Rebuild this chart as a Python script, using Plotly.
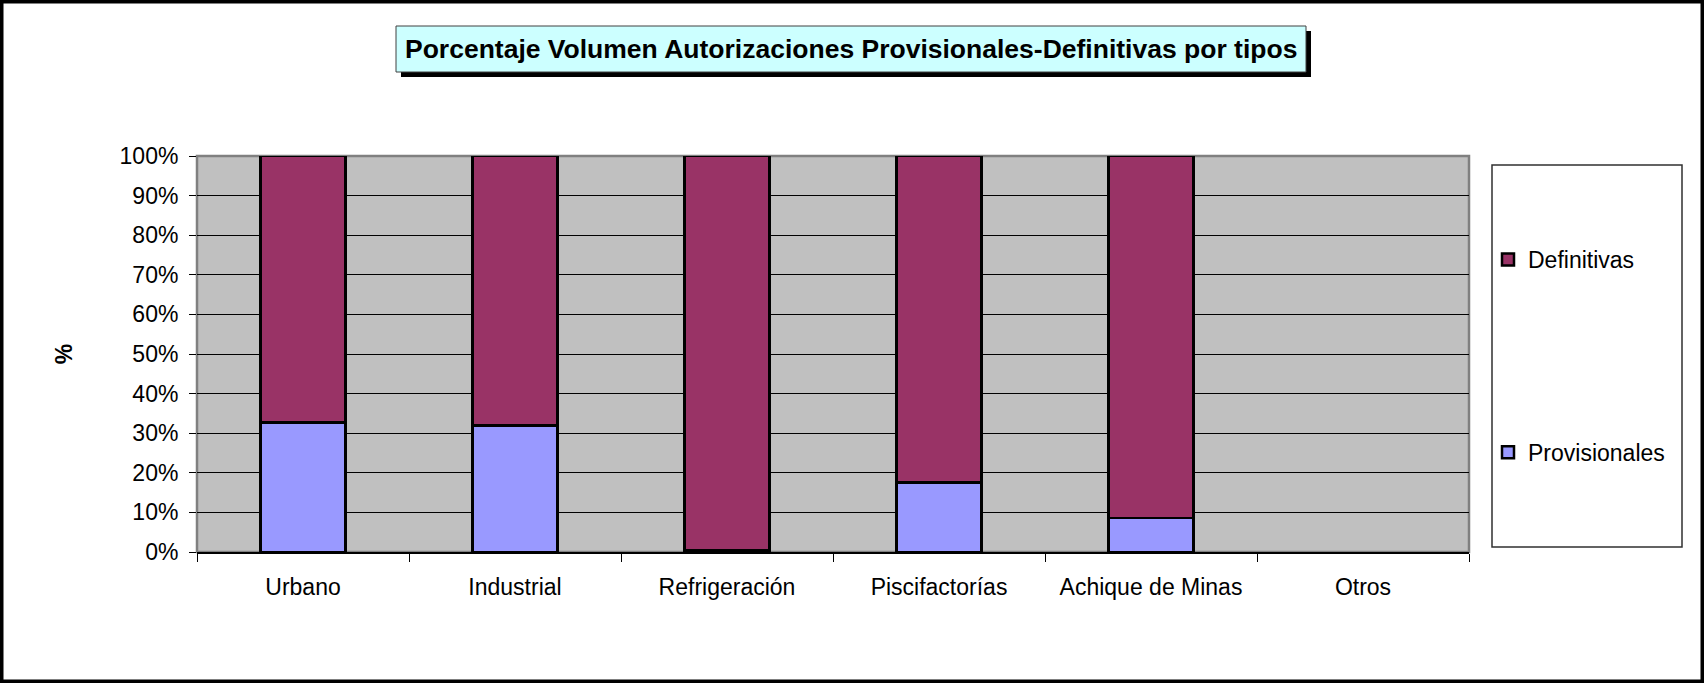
import plotly.graph_objects as go

categories = ["Urbano", "Industrial", "Refrigeración", "Piscifactorías", "Achique de Minas", "Otros"]
provisionales = [32.7, 31.9, 0.4, 17.6, 8.6, None]
definitivas = [67.3, 68.1, 99.6, 82.4, 91.4, None]
y_ticks = [0, 10, 20, 30, 40, 50, 60, 70, 80, 90, 100]
y_ticktext = [f"{v}%" for v in y_ticks]
title_text = "Porcentaje Volumen Autorizaciones Provisionales-Definitivas por tipos"

W, H = 1704, 683
PL, PR, PT, PB = 197, 1469, 156, 552
FONT = "Liberation Sans, Arial, sans-serif"


def px(x):
    return (x - PL) / (PR - PL)


def py(y):
    return (PB - y) / (PB - PT)


fig = go.Figure()
fig.add_trace(go.Bar(
    x=categories, y=provisionales, name="Provisionales",
    marker=dict(color="#9999FF", line=dict(color="black", width=2.5)),
    width=0.4, legendgroup="p", legendrank=2,
))
fig.add_trace(go.Bar(
    x=categories, y=definitivas, name="Definitivas",
    marker=dict(color="#993366", line=dict(color="black", width=2.5)),
    width=0.4, legendgroup="d", legendrank=1,
))

shapes = [
    dict(type="rect", xref="paper", yref="paper", x0=px(1.5), x1=px(W - 1.5), y0=py(1.5), y1=py(H - 1.5),
         line=dict(color="black", width=4), layer="above"),
    dict(type="rect", xref="paper", yref="paper", x0=0, x1=1, y0=0, y1=1,
         line=dict(color="#808080", width=2.5), layer="between"),
    dict(type="rect", xref="paper", yref="paper", x0=px(401), x1=px(1311), y0=py(77), y1=py(31),
         line=dict(width=0), fillcolor="black", layer="above"),
    dict(type="rect", xref="paper", yref="paper", x0=px(396), x1=px(1306), y0=py(72), y1=py(26),
         line=dict(color="#404040", width=1), fillcolor="#CCFFFF", layer="above"),
    dict(type="rect", xref="paper", yref="paper", x0=px(1492), x1=px(1682), y0=py(547), y1=py(165),
         line=dict(color="#303030", width=1.5), fillcolor="white", layer="below"),
]

fig.update_layout(
    width=W, height=H,
    margin=dict(l=PL, r=W - PR, t=PT, b=H - PB, autoexpand=False),
    paper_bgcolor="white", plot_bgcolor="#C0C0C0",
    barmode="stack", bargap=0.6,
    font=dict(family=FONT, size=23, color="black"),
    shapes=shapes,
    annotations=[dict(
        text=f"<b>{title_text}</b>", xref="paper", yref="paper",
        x=px(851), y=py(49), xanchor="center", yanchor="middle", showarrow=False,
        font=dict(family=FONT, size=26.5, color="black"),
    )],
    legend=dict(
        x=px(1488), y=py(238), xanchor="left", yanchor="top",
        bgcolor="rgba(0,0,0,0)", borderwidth=0,
        traceorder="grouped", tracegroupgap=160,
        font=dict(family=FONT, size=23, color="black"),
    ),
    xaxis=dict(
        showgrid=False, showline=True, linecolor="black", linewidth=1.5,
        ticks="outside", tickson="boundaries", ticklen=8, tickcolor="black", tickwidth=1,
        ticklabelstandoff=14, tickfont=dict(size=23),
    ),
    yaxis=dict(
        range=[0, 100], tickvals=y_ticks, ticktext=y_ticktext,
        showgrid=True, gridcolor="black", gridwidth=1, zeroline=False, showline=False,
        ticks="outside", ticklen=7, tickcolor="black", tickwidth=1,
        ticklabelstandoff=6, tickfont=dict(size=23),
        title=dict(text="<b>%</b>", standoff=40, font=dict(size=23)),
    ),
)

fig.write_html(
    "out.html",
    config={"displayModeBar": False},
    post_script="document.body.style.margin='0';document.body.style.overflow='hidden';",
)
